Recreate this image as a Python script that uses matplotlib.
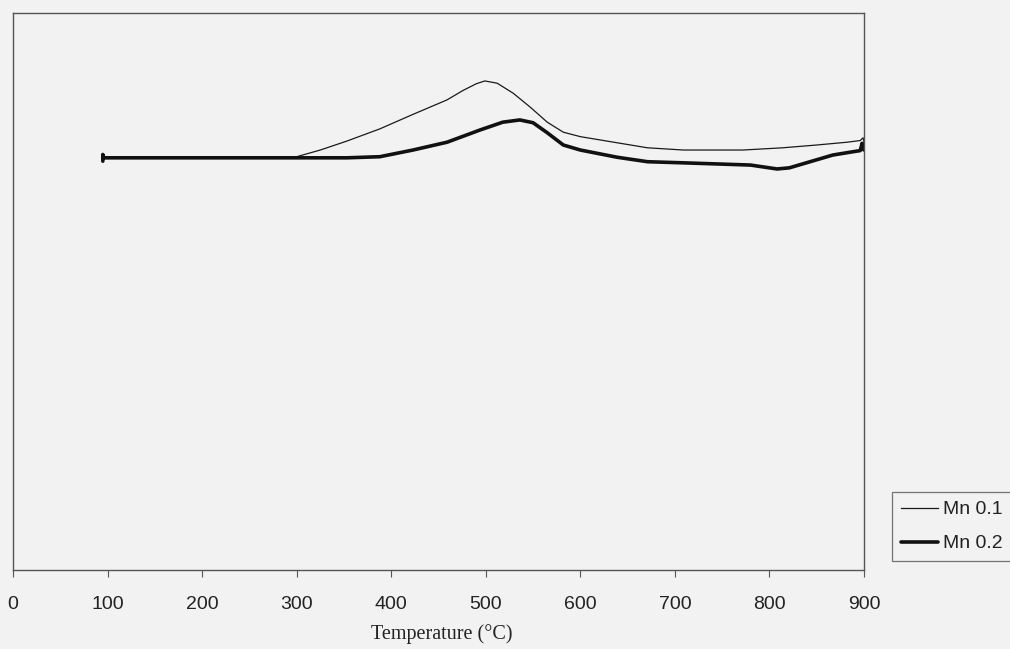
import matplotlib
matplotlib.use("Agg")
import matplotlib.pyplot as plt

# Data (temperature in °C, signal in arbitrary units)
mn01_temp = [95, 150, 200, 250, 290, 300, 325, 353, 388, 423, 459, 476, 490, 499,
             512, 529, 547, 565, 582, 600, 639, 671, 709, 772, 814, 850, 882, 896,
             899, 900, 899, 897]
mn01_signal = [74.0, 74.0, 74.0, 74.0, 74.0, 74.2, 75.4, 77.0, 79.2, 81.8, 84.4, 86.1,
               87.3, 87.8, 87.4, 85.6, 83.1, 80.4, 78.6, 77.8, 76.7, 75.8, 75.4, 75.4,
               75.8, 76.3, 76.8, 77.1, 77.6, 76.9, 76.2, 76.6]

mn02_temp = [95, 95, 96, 150, 200, 250, 300, 353, 388, 423, 459, 494, 518, 536, 550,
             565, 582, 600, 639, 671, 709, 780, 808, 821, 843, 867, 885, 896, 898,
             899, 900]
mn02_signal = [73.4, 74.6, 74.0, 74.0, 74.0, 74.0, 74.0, 74.0, 74.2, 75.4, 76.8, 79.0,
               80.4, 80.8, 80.3, 78.5, 76.3, 75.4, 74.1, 73.3, 73.1, 72.7, 72.0, 72.2,
               73.3, 74.5, 75.0, 75.3, 76.6, 75.6, 75.4]

series_labels = ["Mn 0.1", "Mn 0.2"]
xticks = [0, 100, 200, 300, 400, 500, 600, 700, 800, 900]
xlabel = "Temperature (°C)"

bg = "#f2f2f2"
fig = plt.figure(figsize=(10.10, 6.49), dpi=100, facecolor=bg)
ax = fig.add_axes([13 / 1010, 1 - 570 / 649, (864 - 13) / 1010, (570 - 13) / 649])
ax.set_facecolor(bg)

ax.plot(mn01_temp, mn01_signal, color="#1a1a1a", lw=0.9, label=series_labels[0])
ax.plot(mn02_temp, mn02_signal, color="#111111", lw=2.6, label=series_labels[1],
        solid_capstyle="round")

ax.set_xlim(0, 900)
ax.set_ylim(0, 100)
ax.set_yticks([])
ax.set_xticks(xticks)
ax.set_xticklabels([str(t) for t in xticks], family="Liberation Sans", fontsize=14,
                   color="#222222")
ax.tick_params(axis="x", direction="out", length=5, width=0.8, color="#555555", pad=14)
for s in ax.spines.values():
    s.set_color("#555555")
    s.set_linewidth(1.0)

fig.text(442 / 1010, 1 - 634 / 649, xlabel, family="Liberation Serif", fontsize=14.5,
         ha="center", va="center", color="#222222")

leg = fig.legend(loc="upper left", bbox_to_anchor=(892 / 1010, 1 - 492 / 649),
                 bbox_transform=fig.transFigure, frameon=True, fancybox=False,
                 prop={"family": "Liberation Sans", "size": 14},
                 handlelength=1.9, handletextpad=0.25, borderpad=0.45,
                 labelspacing=0.85, borderaxespad=0)
leg.get_frame().set_edgecolor("#555555")
leg.get_frame().set_facecolor(bg)
leg.get_frame().set_linewidth(0.9)
for t in leg.get_texts():
    t.set_color("#222222")

fig.savefig("out.png", dpi=100, facecolor=bg)
